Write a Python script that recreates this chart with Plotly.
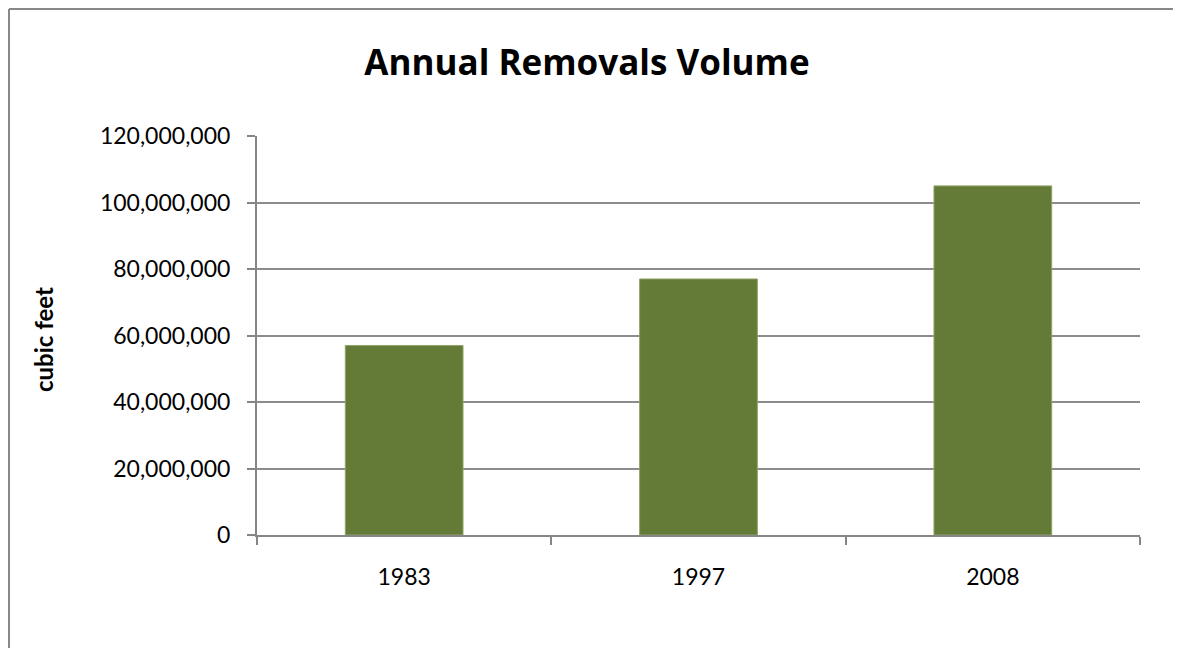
import plotly.graph_objects as go

years = ["1983", "1997", "2008"]
volumes = [57000000, 77000000, 105000000]
y_ticks = [0, 20000000, 40000000, 60000000, 80000000, 100000000, 120000000]
y_tick_labels = ["0", "20,000,000", "40,000,000", "60,000,000", "80,000,000", "100,000,000", "120,000,000"]

# page body has an 8px margin; size the figure to fit the window without scrollbars
OFF = 8
W, H = 1181 - 2 * OFF, 656 - 2 * OFF
L, R, T, B = 257 - OFF, W - (1140 - OFF), 136 - OFF, H - (535 - OFF)
pw, ph = W - L - R, H - T - B

def px_x(px):
    return (px - OFF - L) / pw

def px_y(py):
    return (H - B - (py - OFF)) / ph

fig = go.Figure()
fig.add_trace(go.Bar(
    x=years, y=volumes,
    marker=dict(color="#647A37", line=dict(color="#8FA566", width=1)),
    hoverinfo="x+y",
))

font_family = "Lato, 'Open Sans', sans-serif"
title_font = "'Open Sans', Lato, sans-serif"

fig.update_layout(
    width=W, height=H,
    margin=dict(l=L, r=R, t=T, b=B, autoexpand=False),
    paper_bgcolor="white", plot_bgcolor="white",
    bargap=0.6,
    showlegend=False,
    font=dict(family=font_family, color="black"),
    title=dict(text="<b>Annual Removals Volume</b>", x=(587 - OFF) / W, xref="container", xanchor="center",
               y=1 - (63 - OFF) / H, yref="container", yanchor="middle",
               font=dict(size=35, family=title_font, color="black")),
    xaxis=dict(
        type="category",
        showline=True, linecolor="#868686", linewidth=2,
        ticks="outside", tickson="boundaries", ticklen=8, tickwidth=2, tickcolor="#868686",
        showgrid=False,
        tickfont=dict(size=23, family=font_family, color="black"),
        ticklabelstandoff=20,
    ),
    yaxis=dict(
        range=[0, 120000000],
        tickvals=y_ticks, ticktext=y_tick_labels,
        showline=True, linecolor="#868686", linewidth=2,
        ticks="outside", ticklen=8, tickwidth=2, tickcolor="#868686",
        showgrid=True, gridcolor="#8C8C8C", gridwidth=2,
        zeroline=False,
        tickfont=dict(size=23, family=font_family, color="black"),
        ticklabelstandoff=12,
    ),
    shapes=[
        dict(type="line", xref="paper", yref="paper",
             x0=px_x(9), x1=px_x(9), y0=px_y(648), y1=px_y(9),
             line=dict(color="#888888", width=2), layer="below"),
        dict(type="line", xref="paper", yref="paper",
             x0=px_x(9), x1=px_x(1173), y0=px_y(9), y1=px_y(9),
             line=dict(color="#888888", width=2), layer="below"),
    ],
)
fig.add_annotation(text="<b>cubic feet</b>", xref="paper", yref="paper",
                   x=px_x(43), y=px_y(340), textangle=-90, showarrow=False,
                   font=dict(size=24, family=font_family, color="black"),
                   xanchor="center", yanchor="middle")

fig.write_html("out.html")
